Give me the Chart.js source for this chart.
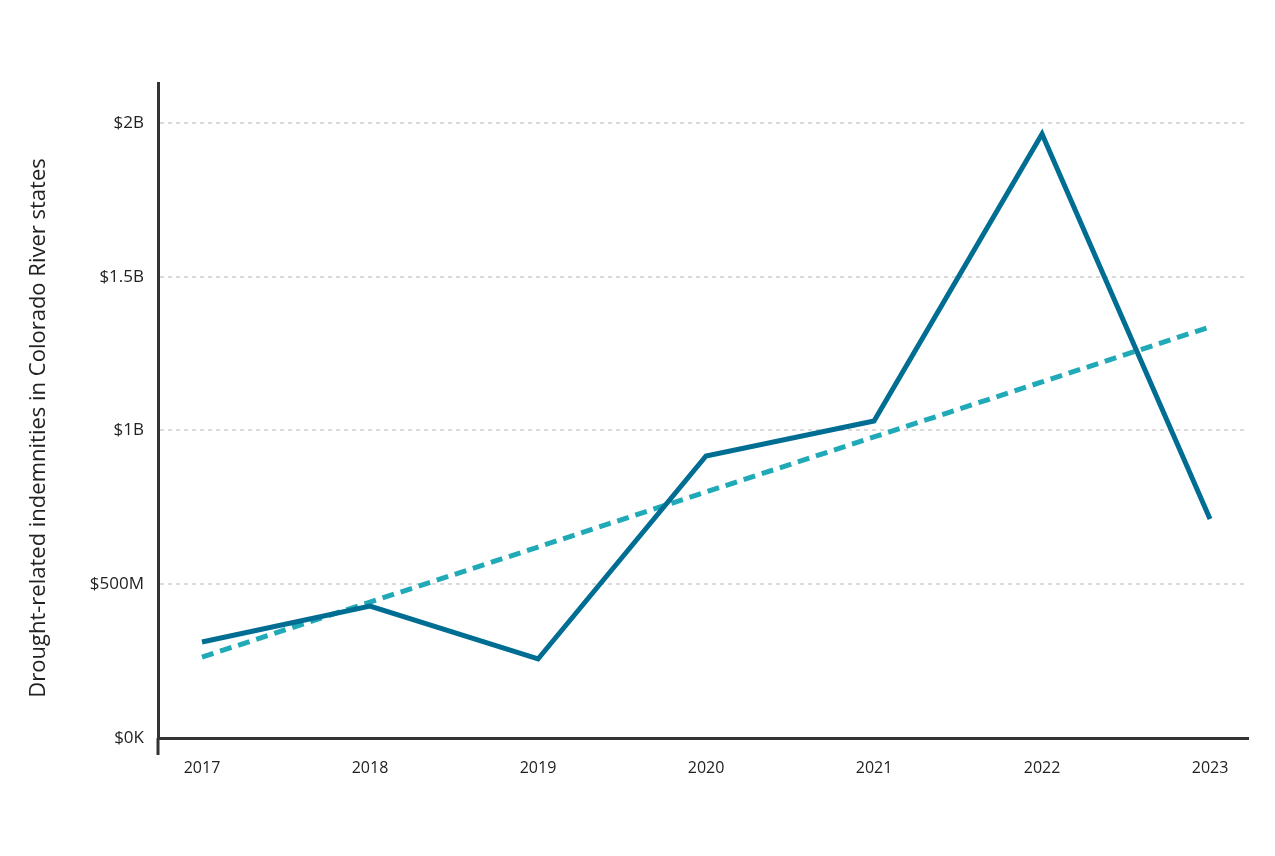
<!DOCTYPE html>
<html>
<head>
<meta charset="utf-8">
<script src="https://cdn.jsdelivr.net/npm/chart.js@4"></script>
<style>
html,body{margin:0;padding:0;background:#fff;}
#wrap{width:1275px;height:856px;position:relative;}
</style>
</head>
<body>
<div id="wrap"><canvas id="c" width="1275" height="856"></canvas></div>
<script>
const years = [2017, 2018, 2019, 2020, 2021, 2022, 2023];
const indemnities = [0.312e9, 0.429e9, 0.257e9, 0.917e9, 1.031e9, 1.964e9, 0.712e9];
const trend = [0.263e9, 0.442e9, 0.621e9, 0.800e9, 0.979e9, 1.158e9, 1.337e9];
const yTickValues = [0, 0.5e9, 1e9, 1.5e9, 2e9];
const yTickLabels = ['$0K', '$500M', '$1B', '$1.5B', '$2B'];
const yTitle = 'Drought-related indemnities in Colorado River states';

const FONT = '"Open Sans", Lato, sans-serif';

const axisExtras = {
  id: 'axisExtras',
  afterDraw(chart) {
    const ctx = chart.ctx, a = chart.chartArea;
    ctx.save();
    ctx.strokeStyle = '#333';
    ctx.lineWidth = 3;
    ctx.beginPath();
    ctx.moveTo(a.left, a.bottom);
    ctx.lineTo(a.left, a.bottom + 17);
    ctx.stroke();
    // y-axis title
    ctx.translate(39, 428);
    ctx.rotate(-Math.PI / 2);
    ctx.fillStyle = '#222';
    ctx.font = '22px ' + FONT;
    ctx.textAlign = 'center';
    ctx.textBaseline = 'middle';
    ctx.fillText(yTitle, 0, 0);
    ctx.restore();
  }
};

new Chart(document.getElementById('c'), {
  type: 'line',
  data: {
    datasets: [
      {
        label: 'Trend',
        data: years.map((y, i) => ({x: y, y: trend[i]})),
        borderColor: '#20aab8',
        borderWidth: 5,
        borderDash: [12, 7],
        pointRadius: 0,
        fill: false,
        tension: 0,
        order: 2
      },
      {
        label: 'Indemnities',
        data: years.map((y, i) => ({x: y, y: indemnities[i]})),
        borderColor: '#006d92',
        borderWidth: 5,
        pointRadius: 0,
        fill: false,
        tension: 0,
        borderJoinStyle: 'miter',
        order: 1
      }
    ]
  },
  options: {
    responsive: false,
    animation: false,
    devicePixelRatio: 1,
    layout: {padding: {top: 83, right: 27, left: 0, bottom: 0}},
    plugins: {legend: {display: false}, tooltip: {enabled: false}},
    scales: {
      x: {
        type: 'linear',
        min: 2016.738,
        max: 2023.226,
        afterBuildTicks(s) { s.ticks = years.map(v => ({value: v})); },
        afterFit(s) { s.height = 118; },
        grid: {display: false, drawTicks: false},
        border: {display: true, color: '#333', width: 3},
        ticks: {
          padding: 21,
          color: '#222',
          font: {family: FONT, size: 16},
          callback: v => String(v),
          maxRotation: 0,
          autoSkip: false
        }
      },
      y: {
        type: 'linear',
        min: 0,
        max: 2.13e9,
        afterBuildTicks(s) { s.ticks = yTickValues.map(v => ({value: v})); },
        afterFit(s) { s.width = 158; },
        grid: {
          color: '#dadada',
          lineWidth: 2,
          drawTicks: false
        },
        border: {display: true, color: '#333', width: 3, dash: [4, 4]},
        ticks: {
          padding: 14,
          color: '#222',
          font: {family: FONT, size: 17},
          callback: (v) => yTickLabels[yTickValues.indexOf(v)]
        },
        title: {display: false}
      }
    }
  },
  plugins: [axisExtras]
});
</script>
</body>
</html>
